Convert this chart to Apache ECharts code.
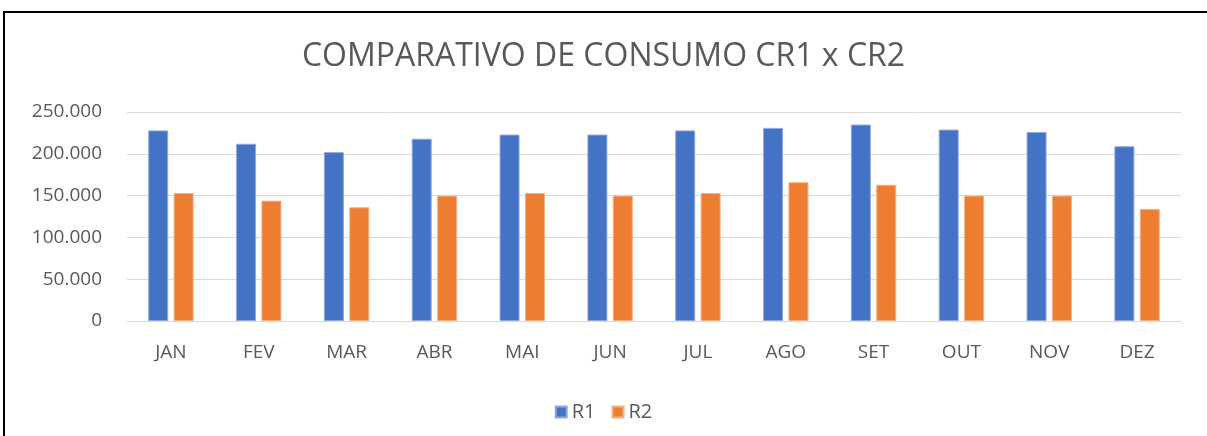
<!DOCTYPE html>
<html>
<head>
<meta charset="utf-8">
<script src="https://cdn.jsdelivr.net/npm/echarts@6/dist/echarts.min.js"></script>
<style>
  html, body { margin: 0; padding: 0; background: #fff; }
  #frame { position: absolute; left: 3px; top: 11px; width: 1210px; height: 440px; border: 2px solid #000; box-sizing: border-box; }
  #main { position: absolute; left: 0; top: 0; width: 1207px; height: 436px; }
</style>
</head>
<body>
<div id="frame"></div>
<div id="main"></div>
<script>
  // dados
  var meses = ['JAN', 'FEV', 'MAR', 'ABR', 'MAI', 'JUN', 'JUL', 'AGO', 'SET', 'OUT', 'NOV', 'DEZ'];
  var r1 = [228000, 212000, 202000, 218000, 223000, 223000, 228000, 231000, 235000, 229000, 226000, 209000];
  var r2 = [153000, 144000, 136000, 150000, 153000, 150000, 153000, 166000, 163000, 150000, 150000, 134000];

  var cor = '#595959';
  var fonte = '"Open Sans", "Noto Sans", sans-serif';

  function milhar(v) {
    return String(v).replace(/\B(?=(\d{3})+(?!\d))/g, '.');
  }

  var myChart = echarts.init(document.getElementById('main'));
  var option = {
    animation: false,
    title: {
      text: 'COMPARATIVO DE CONSUMO CR1 x CR2',
      left: 'center',
      top: 36,
      textStyle: { color: cor, fontSize: 32, fontWeight: 'normal', fontFamily: fonte }
    },
    legend: {
      data: ['R1', 'R2'],
      top: 397,
      left: 'center',
      itemWidth: 11,
      itemHeight: 11,
      itemGap: 16,
      icon: 'rect',
      textStyle: { color: cor, fontSize: 20, fontFamily: fonte }
    },
    grid: { left: 127, right: 26, top: 112, bottom: 115 },
    xAxis: {
      type: 'category',
      data: meses,
      axisLine: { lineStyle: { color: '#d9d9d9' } },
      axisTick: { show: false },
      axisLabel: { color: cor, fontSize: 19, fontFamily: fonte, margin: 22 }
    },
    yAxis: {
      type: 'value',
      min: 0,
      max: 250000,
      interval: 50000,
      axisLine: { show: false },
      axisTick: { show: false },
      splitLine: { lineStyle: { color: '#d9d9d9' } },
      axisLabel: { color: cor, fontSize: 19, fontFamily: fonte, margin: 25, formatter: milhar }
    },
    series: [
      {
        name: 'R1',
        type: 'bar',
        data: r1,
        barWidth: 20,
        barGap: '27%',
        itemStyle: { color: '#4472c4', borderColor: '#8faadc', borderWidth: 1 }
      },
      {
        name: 'R2',
        type: 'bar',
        data: r2,
        barWidth: 20,
        itemStyle: { color: '#ed7d31', borderColor: '#f4b183', borderWidth: 1 }
      }
    ]
  };
  myChart.setOption(option);
</script>
</body>
</html>
